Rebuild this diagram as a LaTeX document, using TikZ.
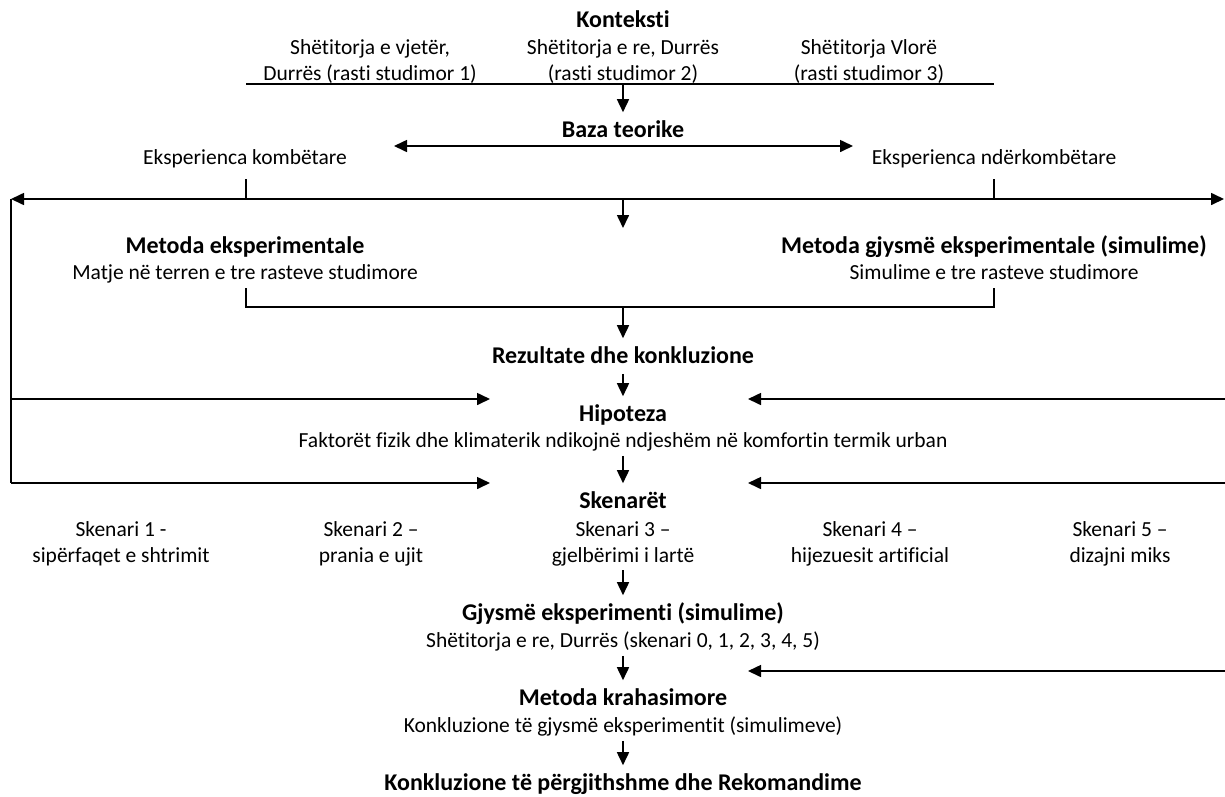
\documentclass[tikz,border=0pt]{standalone}
\usepackage{fontspec}
\setmainfont{Carlito}[Ligatures=NoCommon]
\usetikzlibrary{arrows.meta}
\begin{document}
\begin{tikzpicture}[x=1pt,y=-1pt,>={Triangle[length=13pt,width=12pt]},line width=1.6pt,
  font=\fontsize{21.5}{26}\selectfont,
  head/.style={font=\fontsize{24}{26}\selectfont\bfseries,inner xsep=0pt,inner ysep=6.5pt,text height=18pt,text depth=3pt},
  sub/.style={inner xsep=0pt,inner ysep=4.5pt,text height=16pt,text depth=3pt},
  txt/.style={align=center,inner xsep=0pt,inner ysep=3pt}]
  \useasboundingbox (0,0) rectangle (1225,796);
  % context
  \node[head] (ctx) at (623,20) {Konteksti};
  \node[txt] (case1) at (370,62) {Shëtitorja e vjetër,\\Durrës (rasti studimor 1)};
  \node[txt] (case2) at (623,62) {Shëtitorja e re, Durrës\\(rasti studimor 2)};
  \node[txt] (case3) at (869,62) {Shëtitorja Vlorë\\(rasti studimor 3)};
  \coordinate (ctxL) at (246,84);
  \coordinate (ctxM) at (623,84);
  \coordinate (ctxR) at (994,84);
  \draw (ctxL) -- (ctxR);
  % theory
  \node[head] (baza) at (623,130) {Baza teorike};
  \draw[->] (ctxM) -- (baza);
  \coordinate (bazaL) at (394,146);
  \coordinate (bazaR) at (853,146);
  \draw[<->] (bazaL) -- (bazaR);
  \node[txt] (expnat) at (245,159) {Eksperienca kombëtare};
  \node[txt] (expint) at (994,159) {Eksperienca ndërkombëtare};
  \coordinate (tickL) at (246,179);
  \coordinate (tickR) at (994,179);
  \coordinate (frameL) at (11,199);
  \coordinate (frameM) at (623,199);
  \coordinate (frameR) at (1224,199);
  \draw (tickL) -- (tickL |- frameM);
  \draw (tickR) -- (tickR |- frameM);
  \draw[<->] (frameL) -- (frameR);
  \coordinate (metTop) at (623,228);
  \draw[->] (frameM) -- (metTop);
  % methods
  \node[head] (mexp) at (245,246) {Metoda eksperimentale};
  \node[sub] (mexpsub) at (245,273) {Matje në terren e tre rasteve studimore};
  \node[head] (mgjy) at (994,246) {Metoda gjysmë eksperimentale (simulime)};
  \node[sub] (mgjysub) at (994,273) {Simulime e tre rasteve studimore};
  \coordinate (brL) at (246,288);
  \coordinate (brR) at (994,288);
  \coordinate (brM) at (623,307);
  \draw (brL) |- (brR |- brM) -- (brR);
  \node[head] (rez) at (623,356) {Rezultate dhe konkluzione};
  \draw[->] (brM) -- (rez);
  % hypothesis
  \node[head] (hip) at (623,414) {Hipoteza};
  \draw[->] (rez) -- (hip);
  \node[sub] (hipsub) at (623,441) {Faktorët fizik dhe klimaterik ndikojnë ndjeshëm në komfortin termik urban};
  % scenarios
  \node[head] (sken) at (623,501) {Skenarët};
  \draw[->] (hipsub) -- (sken);
  \node[txt] (sk1) at (121,544) {Skenari 1 -\\sipërfaqet e shtrimit};
  \node[txt] (sk2) at (371,544) {Skenari 2 –\\prania e ujit};
  \node[txt] (sk3) at (623,544) {Skenari 3 –\\gjelbërimi i lartë};
  \node[txt] (sk4) at (870,544) {Skenari 4 –\\hijezuesit artificial};
  \node[txt] (sk5) at (1120,544) {Skenari 5 –\\dizajni miks};
  % simulation and comparison
  \node[head] (gjy) at (623,613) {Gjysmë eksperimenti (simulime)};
  \draw[->] (sk3) -- (gjy);
  \node[sub] (gjysub) at (623,641) {Shëtitorja e re, Durrës (skenari 0, 1, 2, 3, 4, 5)};
  \node[head] (krah) at (623,698) {Metoda krahasimore};
  \draw[->] (gjysub) -- (krah);
  \node[sub] (krahsub) at (623,726) {Konkluzione të gjysmë eksperimentit (simulimeve)};
  \node[head] (konk) at (623,783) {Konkluzione të përgjithshme dhe Rekomandime};
  \draw[->] (krahsub) -- (konk);
  % feedback lines
  \coordinate (leftH) at (11,399);
  \coordinate (leftS) at (11,483);
  \coordinate (hipL) at (490,399);
  \coordinate (skenL) at (490,483);
  \draw (frameL) -- (leftS);
  \draw[->] (leftH) -- (hipL);
  \draw[->] (leftS) -- (skenL);
  \coordinate (rightH) at (1225,399);
  \coordinate (rightS) at (1225,483);
  \coordinate (rightK) at (1225,671);
  \draw[->] (rightH) -- (rightH -| 748,0);
  \draw[->] (rightS) -- (rightS -| 748,0);
  \draw[->] (rightK) -- (rightK -| 748,0);
\end{tikzpicture}
\end{document}
